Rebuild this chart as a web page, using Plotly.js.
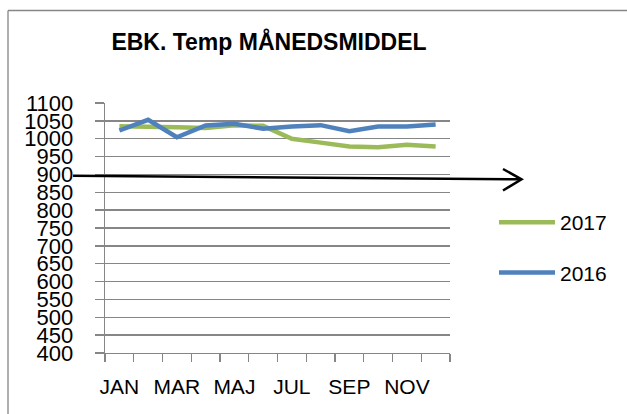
<!DOCTYPE html>
<html>
<head>
<meta charset="utf-8">
<script src="https://cdn.plot.ly/plotly-3.0.1.min.js"></script>
<style>
  body { margin: 0; background: #fff; }
  #chart { width: 627px; height: 414px; }
</style>
</head>
<body>
<div id="chart"></div>
<script>
var maaneder = ['JAN', 'FEB', 'MAR', 'APR', 'MAJ', 'JUN', 'JUL', 'AUG', 'SEP', 'OKT', 'NOV', 'DEC'];
var aar2017 = [1035, 1035, 1032, 1030, 1038, 1036, 1000, 989, 978, 976, 983, 978];
var aar2016 = [1023, 1053, 1004, 1037, 1042, 1028, 1034, 1038, 1021, 1034, 1034, 1040];
var yTicks = [400, 450, 500, 550, 600, 650, 700, 750, 800, 850, 900, 950, 1000, 1050, 1100];

var idx = maaneder.map(function (m, i) { return i; });

// pixel -> paper (plot area 105..450 x 103..353)
function px(x) { return (x - 105) / 345; }
function py(y) { return (353 - y) / 250; }

var gra = '#868686';

var trace1 = {
    x: idx,
    y: aar2017,
    name: '2017',
    legendgroup: 'a',
    mode: 'lines',
    type: 'scatter',
    line: { color: '#9BBB59', width: 4.5 }
};
var trace2 = {
    x: idx,
    y: aar2016,
    name: '2016',
    legendgroup: 'b',
    mode: 'lines',
    type: 'scatter',
    line: { color: '#4F81BD', width: 4.5 }
};

var labelIdx = idx.filter(function (i) { return i % 2 === 0; });

var layout = {
    width: 627,
    height: 414,
    margin: { l: 105, r: 177, t: 103, b: 61, autoexpand: false },
    paper_bgcolor: '#fff',
    plot_bgcolor: '#fff',
    font: { family: 'Liberation Sans, Arial, sans-serif', size: 21, color: '#000' },
    title: {
        text: '<b>EBK. Temp MÅNEDSMIDDEL</b>',
        font: { size: 23, color: '#000' },
        xref: 'container', yref: 'container',
        x: 269 / 627, xanchor: 'center',
        y: 1 - 42 / 414, yanchor: 'middle'
    },
    xaxis: {
        range: [-0.5, 11.5],
        tickvals: labelIdx,
        ticktext: labelIdx.map(function (i) { return maaneder[i]; }),
        ticks: '',
        showgrid: false,
        zeroline: false,
        showline: true,
        linecolor: gra,
        linewidth: 1.3,
        ticklabelstandoff: 14,
        minor: { tick0: -0.5, dtick: 1, ticks: 'outside', ticklen: 8, tickcolor: gra, tickwidth: 1.3, showgrid: false },
        fixedrange: true
    },
    yaxis: {
        range: [400, 1100],
        tickvals: yTicks,
        tickfont: { size: 22 },
        ticks: 'outside',
        ticklen: 9,
        tickcolor: gra,
        tickwidth: 1.3,
        showgrid: true,
        gridcolor: gra,
        gridwidth: 1.3,
        zeroline: false,
        showline: true,
        linecolor: gra,
        linewidth: 1.3,
        ticklabelstandoff: 17,
        fixedrange: true
    },
    showlegend: true,
    legend: {
        x: px(494), xanchor: 'left',
        y: py(202), yanchor: 'top',
        traceorder: 'grouped',
        tracegroupgap: 20,
        itemwidth: 56,
        font: { size: 21 },
        bgcolor: 'rgba(0,0,0,0)'
    },
    shapes: [
        // ramme
        { type: 'line', xref: 'paper', yref: 'paper', x0: px(8), y0: py(10.5), x1: px(640), y1: py(10.5), line: { color: gra, width: 1.3 } },
        { type: 'line', xref: 'paper', yref: 'paper', x0: px(8), y0: py(10.5), x1: px(8), y1: py(420), line: { color: gra, width: 1.3 } },
        // pil
        { type: 'line', xref: 'paper', yref: 'paper', x0: px(73), y0: py(175.7), x1: px(521), y1: py(179.3), line: { color: '#000', width: 2.5 } },
        { type: 'path', xref: 'paper', yref: 'paper',
          path: 'M' + px(503) + ',' + py(169) + ' L' + px(521.5) + ',' + py(179.3) + ' L' + px(503) + ',' + py(190.5),
          line: { color: '#000', width: 2.5 } }
    ]
};

Plotly.newPlot('chart', [trace1, trace2], layout, { displayModeBar: false, staticPlot: true });
</script>
</body>
</html>
